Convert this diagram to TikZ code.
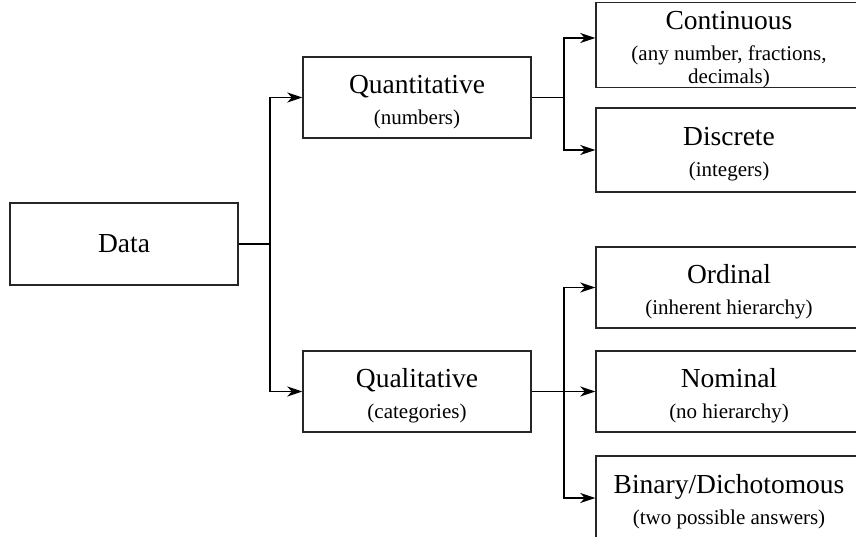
\documentclass[tikz,border=0pt]{standalone}
\usepackage{fontspec}
\setmainfont{Liberation Serif}
\usetikzlibrary{arrows.meta}
\colorlet{box line color}{black!85}
\tikzset{
    x={1pt},
    y={-1pt},
    type box/.style={
        draw={box line color},
        line width={1.5pt},
        rectangle,
        align=center,
        inner sep=0pt,
        minimum width={#1},
        minimum height={81},
        font={\fontsize{21}{31}\selectfont},
    },
    type box/.default={228},
    leaf box/.style={
        type box={266},
    },
    connector/.style={
        draw=black,
        line width={1.2pt},
    },
    arrow connector/.style={
        connector,
        -{Stealth[length=15pt,width=10pt,inset=4.5pt]},
    },
}
\newcommand{\boxtitle}[1]{{\fontsize{27.5}{29}\selectfont\rule{0pt}{27pt}#1}}

\begin{document}
\begin{tikzpicture}
\clip (0,0) rectangle (856,537);
\useasboundingbox (0,0) rectangle (856,537);
% boxes
\node[type box, minimum height={82}] (data) at (124,244) {{\fontsize{27.5}{29}\selectfont Data}};
\node[type box] (quant) at (417,97.5) {\boxtitle{Quantitative}\\(numbers)};
\node[type box] (qual) at (417,391.5) {\boxtitle{Qualitative}\\(categories)};
\node[leaf box, minimum height={82}] (cont) at (729,45) {\boxtitle{Continuous}\\(any number, fractions,\\[-8pt]decimals)};
\node[leaf box, minimum height={84}] (disc) at (729,150) {\boxtitle{Discrete}\\(integers)};
\node[leaf box] (ord) at (729,287.5) {\boxtitle{Ordinal}\\(inherent hierarchy)};
\node[leaf box] (nom) at (729,391.5) {\boxtitle{Nominal}\\(no hierarchy)};
\node[leaf box, minimum height={84}] (bin) at (729,498) {\boxtitle{Binary/Dichotomous}\\(two possible answers)};
% junctions
\coordinate (data split) at (270,244);
\coordinate (quant split) at (564,97.5);
\coordinate (qual split) at (564,391.5);
% connectors
\draw[connector] (data.east) -- (data split);
\draw[arrow connector] (data split) |- (quant.west);
\draw[arrow connector] (data split) |- (qual.west);
\draw[connector] (quant.east) -- (quant split);
\draw[arrow connector] (quant split) |- ([yshift=7pt]cont.west);
\draw[arrow connector] (quant split) |- (disc.west);
\draw[arrow connector] (qual.east) -- (nom.west);
\draw[arrow connector] (qual split) |- (ord.west);
\draw[arrow connector] (qual split) |- (bin.west);
\end{tikzpicture}
\end{document}
